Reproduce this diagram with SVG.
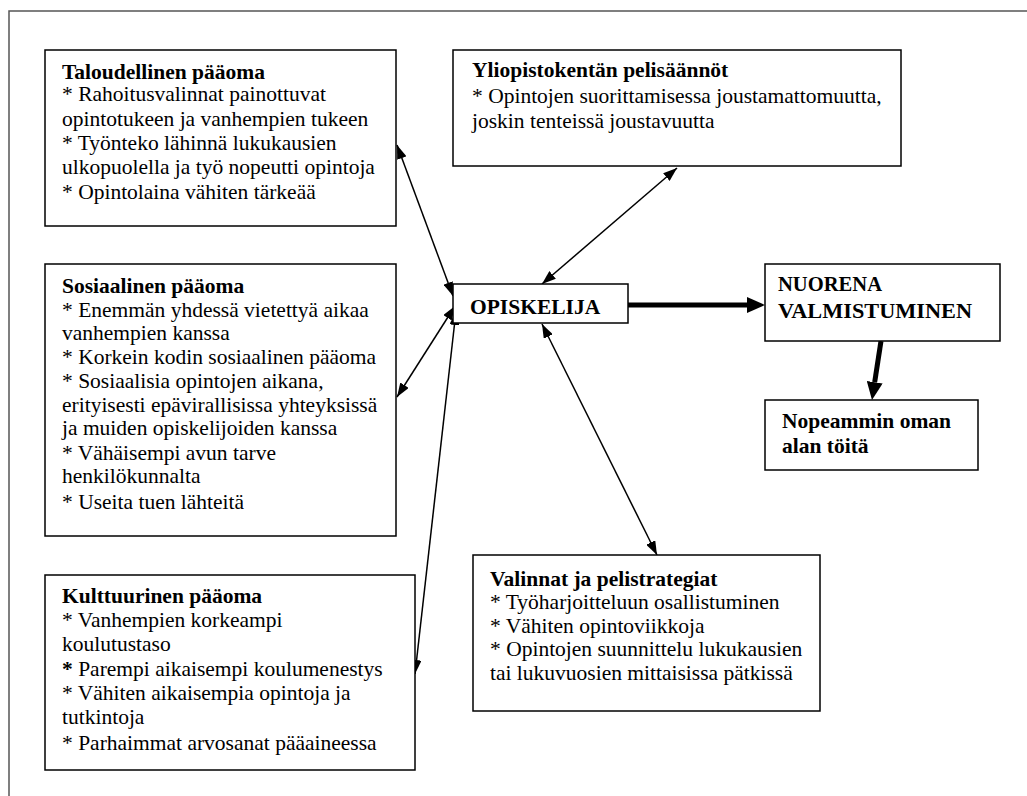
<svg xmlns="http://www.w3.org/2000/svg" width="1027" height="796" viewBox="0 0 1027 796">
<style>
.box{fill:#fff;stroke:#000;stroke-width:1.5}
.t{font-family:"Liberation Serif","Times New Roman",serif;font-size:21.5px;fill:#000}
.b{font-weight:bold}
.thin{stroke:#000;stroke-width:1.5;fill:none}
.thick{stroke:#000;stroke-width:5;fill:none}
</style>
<defs>
<marker id="ah" markerUnits="userSpaceOnUse" markerWidth="14" markerHeight="10" refX="14" refY="5" orient="auto-start-reverse"><path d="M0,0 L14,5 L0,10 z" fill="#000"/></marker>
<marker id="ahb" markerUnits="userSpaceOnUse" markerWidth="18" markerHeight="16" refX="0" refY="8" orient="auto"><path d="M0,0 L18,8 L0,16 z" fill="#000"/></marker>
</defs>
<rect width="1027" height="796" fill="#fff"/>
<path d="M9,796 L9,11 L1027,11" fill="none" stroke="#555" stroke-width="1.5"/>

<g id="connectors">
<line class="thin" x1="397" y1="145" x2="453" y2="296" marker-start="url(#ah)" marker-end="url(#ah)"/>
<line class="thin" x1="677" y1="168" x2="542" y2="284" marker-start="url(#ah)" marker-end="url(#ah)"/>
<line class="thin" x1="397" y1="397" x2="455" y2="306" marker-start="url(#ah)" marker-end="url(#ah)"/>
<line class="thin" x1="456" y1="311" x2="415" y2="674" marker-start="url(#ah)" marker-end="url(#ah)"/>
<line class="thin" x1="542" y1="324" x2="657" y2="555" marker-start="url(#ah)" marker-end="url(#ah)"/>
<line class="thick" x1="628" y1="305" x2="747" y2="305" marker-end="url(#ahb)"/>
<line class="thick" x1="881" y1="341" x2="874.7" y2="382.2" marker-end="url(#ahb)"/>
</g>

<g id="taloudellinen">
<rect class="box" x="45" y="50" width="351" height="176"/>
<text class="t b" x="62" y="79">Taloudellinen pääoma</text>
<text class="t" x="62" y="101">* Rahoitusvalinnat painottuvat</text>
<text class="t" x="62" y="126">opintotukeen ja vanhempien tukeen</text>
<text class="t" x="62" y="150">* Työnteko lähinnä lukukausien</text>
<text class="t" x="62" y="174">ulkopuolella ja työ nopeutti opintoja</text>
<text class="t" x="62" y="199">* Opintolaina vähiten tärkeää</text>
</g>

<g id="yliopisto">
<rect class="box" x="453" y="50" width="448" height="116"/>
<text class="t b" x="472" y="77">Yliopistokentän pelisäännöt</text>
<text class="t" x="472" y="103">* Opintojen suorittamisessa joustamattomuutta,</text>
<text class="t" x="472" y="128">joskin tenteissä joustavuutta</text>
</g>

<g id="sosiaalinen">
<rect class="box" x="45" y="264" width="351" height="272"/>
<text class="t b" x="62" y="293">Sosiaalinen pääoma</text>
<text class="t" x="62" y="317">* Enemmän yhdessä vietettyä aikaa</text>
<text class="t" x="62" y="340">vanhempien kanssa</text>
<text class="t" x="62" y="364">* Korkein kodin sosiaalinen pääoma</text>
<text class="t" x="62" y="388">* Sosiaalisia opintojen aikana,</text>
<text class="t" x="62" y="412">erityisesti epävirallisissa yhteyksissä</text>
<text class="t" x="62" y="435">ja muiden opiskelijoiden kanssa</text>
<text class="t" x="62" y="460">* Vähäisempi avun tarve</text>
<text class="t" x="62" y="483">henkilökunnalta</text>
<text class="t" x="62" y="509">* Useita tuen lähteitä</text>
</g>

<g id="opiskelija">
<rect class="box" x="453" y="284" width="175" height="39"/>
<text class="t b" x="470" y="314">OPISKELIJA</text>
</g>

<g id="nuorena">
<rect class="box" x="765" y="264" width="235" height="77"/>
<text class="t b" x="778" y="291" textLength="104" lengthAdjust="spacingAndGlyphs">NUORENA</text>
<text class="t b" x="778" y="318" textLength="194" lengthAdjust="spacingAndGlyphs">VALMISTUMINEN</text>
</g>

<g id="nopeammin">
<rect class="box" x="765" y="400" width="213" height="70"/>
<text class="t b" x="782" y="428">Nopeammin oman</text>
<text class="t b" x="782" y="453">alan töitä</text>
</g>

<g id="kulttuurinen">
<rect class="box" x="45" y="575" width="370" height="195"/>
<text class="t b" x="62" y="603">Kulttuurinen pääoma</text>
<text class="t" x="62" y="627">* Vanhempien korkeampi</text>
<text class="t" x="62" y="651">koulutustaso</text>
<text class="t" x="62" y="676"><tspan class="b">*</tspan> Parempi aikaisempi koulumenestys</text>
<text class="t" x="62" y="700">* Vähiten aikaisempia opintoja ja</text>
<text class="t" x="62" y="724">tutkintoja</text>
<text class="t" x="62" y="750">* Parhaimmat arvosanat pääaineessa</text>
</g>

<g id="valinnat">
<rect class="box" x="473" y="555" width="347" height="156"/>
<text class="t b" x="490" y="586">Valinnat ja pelistrategiat</text>
<text class="t" x="490" y="609">* Työharjoitteluun osallistuminen</text>
<text class="t" x="490" y="633">* Vähiten opintoviikkoja</text>
<text class="t" x="490" y="656">* Opintojen suunnittelu lukukausien</text>
<text class="t" x="490" y="680">tai lukuvuosien mittaisissa pätkissä</text>
</g>
</svg>
